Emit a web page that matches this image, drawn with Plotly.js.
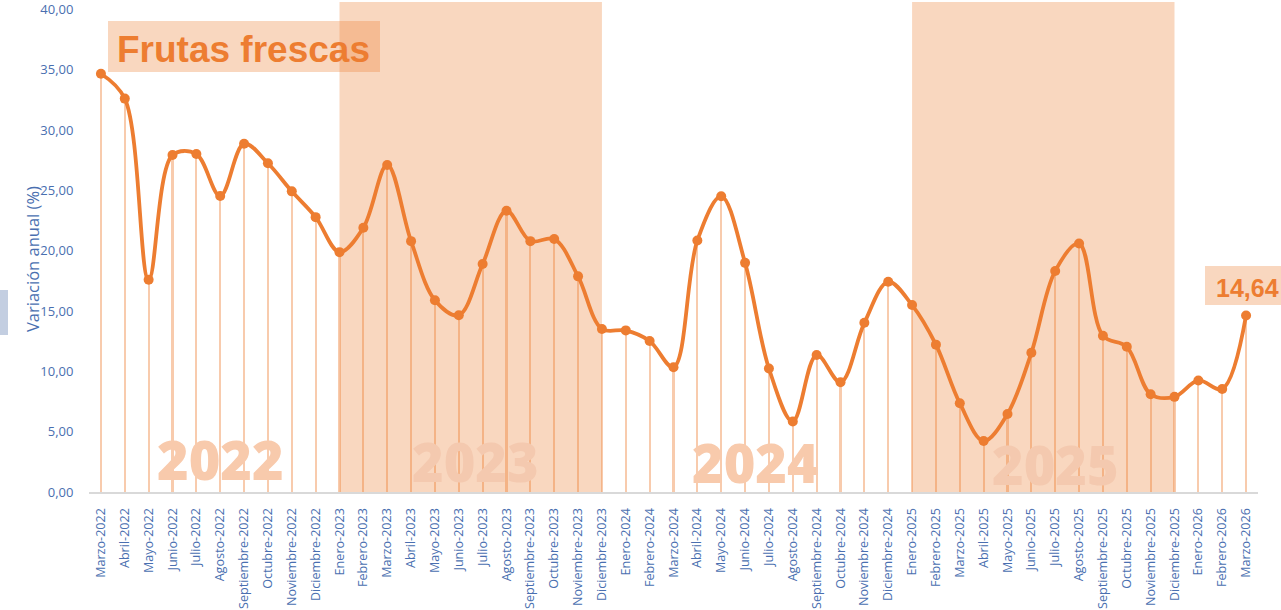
<!DOCTYPE html>
<html>
<head>
<meta charset="utf-8">
<script src="https://cdn.plot.ly/plotly-3.0.1.min.js"></script>
<style>html,body{margin:0;padding:0;background:#fff;}#chart{width:1281px;height:610px;}</style>
</head>
<body>
<div id="chart"></div>
<script>
const months = ["Marzo-2022","Abril-2022","Mayo-2022","Junio-2022","Julio-2022","Agosto-2022","Septiembre-2022","Octubre-2022","Noviembre-2022","Diciembre-2022",
"Enero-2023","Febrero-2023","Marzo-2023","Abril-2023","Mayo-2023","Junio-2023","Julio-2023","Agosto-2023","Septiembre-2023","Octubre-2023","Noviembre-2023","Diciembre-2023",
"Enero-2024","Febrero-2024","Marzo-2024","Abril-2024","Mayo-2024","Junio-2024","Julio-2024","Agosto-2024","Septiembre-2024","Octubre-2024","Noviembre-2024","Diciembre-2024",
"Enero-2025","Febrero-2025","Marzo-2025","Abril-2025","Mayo-2025","Junio-2025","Julio-2025","Agosto-2025","Septiembre-2025","Octubre-2025","Noviembre-2025","Diciembre-2025",
"Enero-2026","Febrero-2026","Marzo-2026"];
const variacion = [34.68,32.62,17.60,27.94,28.02,24.54,28.88,27.26,24.93,22.79,
19.89,21.91,27.12,20.80,15.90,14.66,18.90,23.32,20.80,20.98,17.88,13.52,
13.40,12.52,10.35,20.86,24.52,19.00,10.24,5.85,11.36,9.10,14.03,17.43,
15.50,12.22,7.36,4.23,6.47,11.54,18.33,20.60,12.95,12.04,8.11,7.89,
9.25,8.54,14.64];
const yearLabels = ["2022","2023","2024","2025"];
const shadedYears = [["Enero-2023","Diciembre-2023"],["Enero-2025","Diciembre-2025"]];
const chartTitle = "Frutas frescas";
const yTitle = "Variación anual (%)";
const lastLabel = "14,64";

const L = 89, R = 1258, T = 2, B = 492;
const px = v => (v - L) / (R - L);
const py = v => (B - v) / (B - T);
const orange = "#ED7D31";
const shade = "rgba(237,125,49,0.31)";
const blue = "#4a6fb0";

const traces = [
  {type:"bar", x:months, y:variacion, width:0.085, marker:{color:"rgba(237,125,49,0.40)"}, hoverinfo:"skip", showlegend:false},
  {type:"scatter", mode:"lines+markers", x:months, y:variacion, line:{color:orange, width:3.8, shape:"spline", smoothing:1}, marker:{color:orange, size:10}, showlegend:false}
];

const shapes = shadedYears.map(p => ({type:"rect", xref:"x", yref:"paper", x0:months.indexOf(p[0]), x1:months.indexOf(p[1]), y0:0, y1:1, fillcolor:shade, line:{width:0}, layer:"below"}));
shapes.push({type:"rect", xref:"paper", yref:"paper", x0:px(108), x1:px(380), y0:py(72), y1:py(21), fillcolor:shade, line:{width:0}, layer:"above"});
shapes.push({type:"rect", xref:"paper", yref:"paper", x0:px(1205), x1:px(1295), y0:py(305), y1:py(266), fillcolor:shade, line:{width:0}, layer:"above"});
shapes.push({type:"rect", xref:"paper", yref:"paper", x0:px(0), x1:px(8), y0:py(335), y1:py(290), fillcolor:"#C3CEE1", line:{width:0}, layer:"above"});

const yearPos = [[220,459,"rgb(248,202,172)"],[475,461,"rgb(244,201,175)"],[755,462,"rgb(248,202,172)"],[1055,464,"rgb(244,201,175)"]];
const annotations = yearLabels.map((t,i) => ({text:t, xref:"paper", yref:"paper", x:px(yearPos[i][0]), y:py(yearPos[i][1]), xanchor:"center", yanchor:"middle", showarrow:false,
  font:{family:"Open Sans", size:54, weight:800, color:yearPos[i][2]}}));
annotations.push({text:chartTitle, xref:"paper", yref:"paper", x:px(244), y:py(49), xanchor:"center", yanchor:"middle", showarrow:false,
  font:{family:"Liberation Sans, Arial", size:37, weight:700, color:orange}});
annotations.push({text:lastLabel, xref:"paper", yref:"paper", x:px(1247), y:py(288), xanchor:"center", yanchor:"middle", showarrow:false,
  font:{family:"Liberation Sans, Arial", size:25, weight:700, color:orange}});
annotations.push({text:yTitle, xref:"paper", yref:"paper", x:px(32), y:py(259), xanchor:"center", yanchor:"middle", textangle:-90, showarrow:false,
  font:{family:"Open Sans", size:16.5, color:blue}});

const layout = {
  width:1281, height:610, margin:{l:L, r:1281-R, t:T, b:610-B, pad:0},
  paper_bgcolor:"#fff", plot_bgcolor:"rgba(0,0,0,0)",
  separators:",.", bargap:0, showlegend:false, hovermode:false,
  xaxis:{type:"category", range:[-0.5, months.length-0.5], showgrid:false, zeroline:false, showline:true, linecolor:"#D9D9D9", linewidth:2,
    tickangle:-90, ticks:"outside", ticklen:9, tickcolor:"rgba(0,0,0,0)", tickfont:{family:"Open Sans", size:12.6, color:blue}, automargin:false, fixedrange:true},
  yaxis:{range:[0, 40.63], tickvals:[0,5,10,15,20,25,30,35,40], tickformat:".2f", showgrid:false, zeroline:false, showline:false,
    ticks:"outside", ticklen:12, tickcolor:"rgba(0,0,0,0)", tickfont:{family:"Open Sans", size:13, color:blue}, automargin:false, fixedrange:true},
  shapes:shapes, annotations:annotations
};
Plotly.newPlot("chart", traces, layout, {displayModeBar:false, staticPlot:true});
</script>
</body>
</html>
